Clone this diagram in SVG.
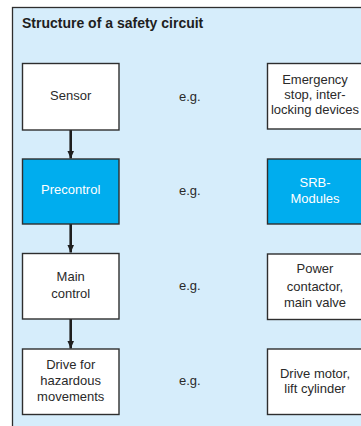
<svg xmlns="http://www.w3.org/2000/svg" width="361" height="426" viewBox="0 0 361 426">
<defs>
<marker id="ah" viewBox="0 0 8 8" refX="8" refY="4" markerWidth="8" markerHeight="8" markerUnits="userSpaceOnUse" orient="auto">
<path d="M0,0.5 L8,4 L0,7.5 Z" fill="#1e1e1e"/>
</marker>
<style>
.bg{fill:#d6edfb;stroke:#2e2e2e;stroke-width:1.3}
.box{fill:#ffffff;stroke:#2e2e2e;stroke-width:1.4}
.blue{fill:#00adee;stroke:#2e2e2e;stroke-width:1.4}
.t{font-family:"Liberation Sans",Arial,sans-serif;font-size:13px;fill:#2a2a2a;text-anchor:middle}
.w{fill:#ffffff}
.eg{font-family:"Liberation Sans",Arial,sans-serif;font-size:13px;fill:#2a2a2a}
.title{font-family:"Liberation Sans",Arial,sans-serif;font-size:14px;font-weight:bold;fill:#1e1e1e}
.c{stroke:#1e1e1e;stroke-width:2.6;fill:none}
</style>
</defs>
<rect class="bg" x="12.5" y="7.5" width="360" height="430"/>
<text class="title" x="22" y="27.5">Structure of a safety circuit</text>
<g id="connectors">
<line class="c" x1="70.7" y1="130" x2="70.7" y2="158.5" marker-end="url(#ah)"/>
<line class="c" x1="70.7" y1="224" x2="70.7" y2="252.5" marker-end="url(#ah)"/>
<line class="c" x1="70.7" y1="319" x2="70.7" y2="348.5" marker-end="url(#ah)"/>
</g>
<g id="sensor">
<rect class="box" x="22.5" y="63.5" width="96.5" height="66.5"/>
<text class="t" x="70.7" y="99.5">Sensor</text>
</g>
<g id="precontrol">
<rect class="blue" x="22.5" y="159" width="96.5" height="65"/>
<text class="t w" x="70.7" y="194">Precontrol</text>
</g>
<g id="main-control">
<rect class="box" x="22.5" y="253.5" width="96.5" height="65.5"/>
<text class="t" x="70.7" y="281">Main</text>
<text class="t" x="70.7" y="297.5">control</text>
</g>
<g id="drive">
<rect class="box" x="22.5" y="349" width="96.5" height="65.5"/>
<text class="t" x="70.7" y="368.5">Drive for</text>
<text class="t" x="70.7" y="384.5">hazardous</text>
<text class="t" x="70.7" y="400.5">movements</text>
</g>
<g id="eg-labels">
<text class="eg" x="179" y="101">e.g.</text>
<text class="eg" x="179" y="195">e.g.</text>
<text class="eg" x="179" y="290">e.g.</text>
<text class="eg" x="179" y="385">e.g.</text>
</g>
<g id="emergency">
<rect class="box" x="267.5" y="63.5" width="97" height="65.5"/>
<text class="t" x="315" y="84">Emergency</text>
<text class="t" x="315" y="99">stop, inter-</text>
<text class="t" x="315" y="114">locking devices</text>
</g>
<g id="srb">
<rect class="blue" x="267.5" y="159" width="97" height="65"/>
<text class="t w" x="315" y="186.5">SRB-</text>
<text class="t w" x="315" y="202.5">Modules</text>
</g>
<g id="power">
<rect class="box" x="267.5" y="254" width="97" height="65.5"/>
<text class="t" x="315" y="273">Power</text>
<text class="t" x="315" y="290.5">contactor,</text>
<text class="t" x="315" y="306.5">main valve</text>
</g>
<g id="drive-motor">
<rect class="box" x="267.5" y="349" width="97" height="65.5"/>
<text class="t" x="315" y="377.5">Drive motor,</text>
<text class="t" x="315" y="392.5">lift cylinder</text>
</g>
</svg>
